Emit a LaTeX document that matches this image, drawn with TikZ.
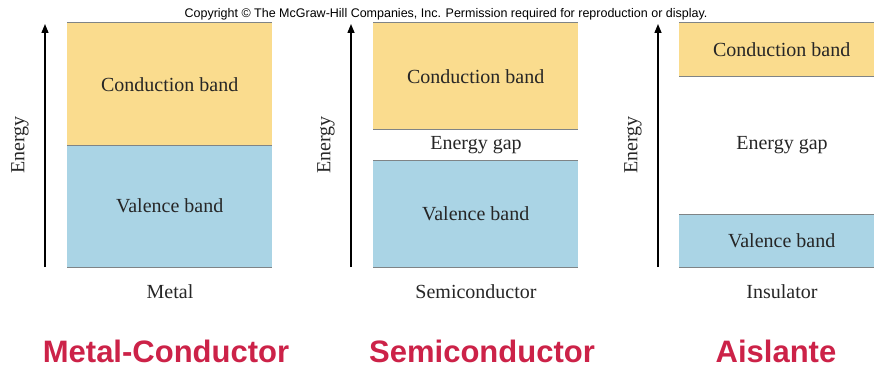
\documentclass[tikz,border=0pt]{standalone}
\usepackage{fontspec}
\setmainfont{Liberation Serif}
\newfontfamily\arialfont{Liberation Sans}
\usetikzlibrary{arrows.meta,positioning}
\definecolor{condband}{HTML}{FADC8E}
\definecolor{valband}{HTML}{AAD4E5}
\definecolor{bandline}{HTML}{7F8486}
\definecolor{title}{HTML}{CC2248}

\begin{document}
\begin{tikzpicture}[x=1pt,y=-1pt,
  band/.style={inner sep=0pt,minimum width=205pt,anchor=north west,font=\fontsize{20}{24}\selectfont,text=black!85},
  edge/.style={draw=bandline,line width=1pt},
  arr/.style={-{Triangle[length=9pt,width=7pt]},line width=1.4pt},
  lbl/.style={font=\fontsize{20}{24}\selectfont,text=black!85},
  big/.style={font=\arialfont\bfseries\fontsize{31}{36}\selectfont,anchor=base,text=title}]
  \clip (0,0) rectangle (874,369);
  % bands
  \node[band,fill=condband,minimum height=122pt] (c1) at (67,23) {Conduction band};
  \node[band,fill=valband,minimum height=122pt] (v1) at (67,145) {Valence band};
  \node[band,fill=condband,minimum height=106pt] (c2) at (373,23) {Conduction band};
  \node[band,fill=valband,minimum height=107pt] (v2) at (373,160) {Valence band};
  \node[lbl] (g2) at (476,145) {Energy gap};
  \node[band,fill=condband,minimum height=53pt] (c3) at (679,23) {Conduction band};
  \node[band,fill=valband,minimum height=53pt] (v3) at (679,214) {Valence band};
  \node[lbl] (g3) at (782,145) {Energy gap};
  \foreach \b in {c1,v1,c2,v2,c3,v3}
    \draw[edge] (\b.north west) -- (\b.north east) (\b.south west) -- (\b.south east);
  % energy axes
  \foreach \i/\x in {1/45,2/351,3/658} {
    \coordinate (e\i0) at (\x,267);
    \coordinate (e\i1) at (\x,24);
    \draw[arr] (e\i0) -- (e\i1);
    \node[lbl,rotate=90] (en\i) at (\x-25,145) {Energy};
  }
  \node[lbl] (m1) at (170,292) {Metal};
  \node[lbl] (m2) at (476,292) {Semiconductor};
  \node[lbl] (m3) at (782,292) {Insulator};
  % titles
  \foreach \n/\x/\t in {1/166/Metal-Conductor,2/482/Semiconductor,3/776/Aislante}
    \node[big] (t\n) at (\x,362) {\t};
  \node[font=\arialfont\fontsize{12.5}{15}\selectfont,anchor=base] (copy) at (446,18) {Copyright © The McGraw-Hill Companies, Inc. Permission required for reproduction or display.};
\end{tikzpicture}
\end{document}
